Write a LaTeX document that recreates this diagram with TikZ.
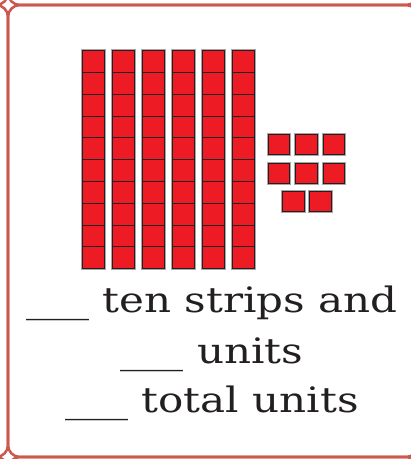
\documentclass[tikz,border=0pt]{standalone}
\usepackage{fontspec}
\setmainfont{DejaVu Serif}
\definecolor{framered}{RGB}{205,88,78}
\definecolor{blockred}{RGB}{237,28,36}
\definecolor{inkgray}{RGB}{35,31,32}

\begin{document}
\begin{tikzpicture}[x=1pt,y=-1pt,
  cell/.style={draw=framered, line width=2.6pt, rounded corners=12pt},
  unitsq/.style={draw=inkgray, line width=0.9pt, fill=blockred},
  halo/.style={draw=black!35, line width=1.4pt},
  blanktext/.style={font=\fontsize{35}{40}\selectfont, text=inkgray, anchor=base, inner sep=0pt, xscale=1.2}]
\useasboundingbox (0,0) rectangle (411,459);
\clip (0,0) rectangle (411,459);

% Frame (cells of the table)
\foreach \xa/\xb in {-400/8, 8/418, 418/800}
  \foreach \ya/\yb in {-400/5, 5/457, 457/900}
    \draw[cell] (\xa,\ya) rectangle (\xb,\yb);

% Ten strips
\foreach \i in {0,...,5} {
  \draw[halo] (81.3+30*\i,49.7) rectangle +(24.3,219.8);
  \foreach \j in {0,...,9}
    \draw[unitsq] (82.3+30*\i,50.7+21.8*\j) rectangle +(22.3,21.8);
}

% Loose units
\foreach \x/\y in {268/134.3, 295.7/134.3, 323.4/134.3,
                   268/163.3, 295.7/163.3, 323.4/163.3,
                   282.7/191.3, 309.7/191.3} {
  \draw[halo] (\x-0.8,\y-0.8) rectangle +(22.9,22);
  \draw[unitsq] (\x,\y) rectangle +(21.3,20.4);
}

% Text
\node[blanktext, transform shape] (strips) at (212,312) {\_\_\_ ten strips and};
\node[blanktext, transform shape] (units) at (212,363) {\_\_\_ units};
\node[blanktext, transform shape] (total) at (212,412) {\_\_\_ total units};
\end{tikzpicture}
\end{document}
